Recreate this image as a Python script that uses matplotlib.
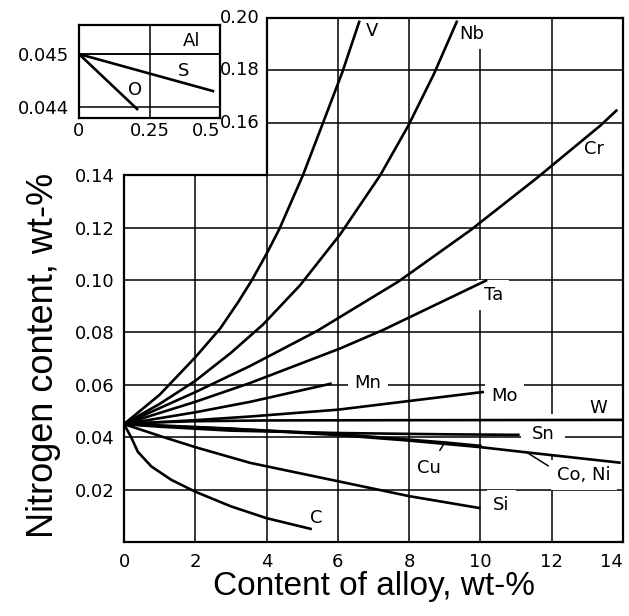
import matplotlib
matplotlib.use('Agg')
import matplotlib.pyplot as plt

plt.rcParams['font.family'] = ['DejaVu Sans']

# ---------------- data ----------------
x_ticks = [0, 2, 4, 6, 8, 10, 12, 14]
y_ticks_low = [0.02, 0.04, 0.06, 0.08, 0.10, 0.12, 0.14]
y_ticks_high = [0.16, 0.18, 0.20]

V_x = [0, 1, 2, 2.7, 3.2, 3.59, 4.0, 4.36, 5.02, 5.57, 6.13, 6.61]
V_y = [0.045, 0.0562, 0.0705, 0.0815, 0.0915, 0.100, 0.110, 0.1195, 0.140, 0.1595, 0.1795, 0.199]

Nb_x = [0, 1, 2, 3, 3.9, 4.94, 6.07, 7.19, 7.98, 8.69, 9.35]
Nb_y = [0.045, 0.0527, 0.0615, 0.0722, 0.083, 0.098, 0.1175, 0.140, 0.159, 0.1785, 0.199]

Cr_x = [0, 2, 3.54, 5.41, 7.71, 9.72, 11.59, 13.37, 13.84]
Cr_y = [0.045, 0.0572, 0.0672, 0.0805, 0.0995, 0.119, 0.139, 0.159, 0.165]

Ta_x = [0, 2, 3.54, 6.07, 7.28, 10.19]
Ta_y = [0.045, 0.0535, 0.0607, 0.0739, 0.081, 0.100]

Mn_x = [0, 2, 3.54, 5.83]
Mn_y = [0.045, 0.0495, 0.0535, 0.0605]

Mo_x = [0, 2, 3.54, 6, 10.1]
Mo_y = [0.045, 0.0465, 0.0479, 0.0505, 0.0573]

W_x = [0, 1, 2, 4, 8, 14]
W_y = [0.045, 0.0457, 0.0461, 0.0464, 0.0465, 0.0466]

Sn_x = [0, 1, 3, 6, 9, 11.1]
Sn_y = [0.045, 0.0440, 0.0425, 0.0416, 0.0411, 0.0409]

Cu_x = [0, 1, 3, 6, 9, 10]
Cu_y = [0.045, 0.0443, 0.0432, 0.0412, 0.0380, 0.0367]

CoNi_x = [0, 1, 3, 6, 8, 10, 11.3, 13.9]
CoNi_y = [0.045, 0.0445, 0.0433, 0.0408, 0.0387, 0.0362, 0.0342, 0.0303]

Si_x = [0, 1, 2, 3.54, 6, 8, 10]
Si_y = [0.045, 0.0405, 0.0362, 0.0302, 0.0232, 0.0175, 0.0129]

C_x = [0, 0.2, 0.39, 0.77, 1.33, 2, 3, 4, 5.27]
C_y = [0.045, 0.040, 0.0344, 0.0288, 0.0237, 0.0192, 0.0136, 0.0091, 0.0049]

# inset (0 ... 0.5 wt-%)
inset_x_ticks = [0, 0.25, 0.5]
inset_y_ticks = [0.044, 0.045]
Al_x = [0, 0.5]
Al_y = [0.045, 0.045]
S_x = [0, 0.475]
S_y = [0.045, 0.0443]
O_x = [0, 0.206]
O_y = [0.045, 0.04396]

curves = [
    (V_x, V_y, 'V', (6.96, 0.195)),
    (Nb_x, Nb_y, 'Nb', (9.77, 0.194)),
    (Cr_x, Cr_y, 'Cr', (13.18, 0.150)),
    (Ta_x, Ta_y, 'Ta', (10.36, 0.0943)),
    (Mn_x, Mn_y, 'Mn', (6.84, 0.0605)),
    (Mo_x, Mo_y, 'Mo', (10.68, 0.0558)),
    (W_x, W_y, 'W', (13.3, 0.0512)),
    (Si_x, Si_y, 'Si', (10.58, 0.0141)),
    (C_x, C_y, 'C', (5.4, 0.0093)),
]

LW_FRAME = 1.6
LW_GRID = 1.1
LW_CURVE = 1.9
FS = 13

fig = plt.figure(figsize=(6.29, 6.16), dpi=100)
ax = fig.add_axes([124 / 629, 74 / 616, 499 / 629, 524 / 616])
ax.set_xlim(0, 14)
ax.set_ylim(0, 0.2)
ax.patch.set_visible(False)

for s in ax.spines.values():
    s.set_linewidth(LW_FRAME)
ax.spines['left'].set_bounds(0, 0.14)
ax.spines['top'].set_bounds(4, 14)

ax.set_xticks(x_ticks)
xlabels = ax.set_xticklabels([str(v) for v in x_ticks])
xlabels[-1].set_ha('right')
ax.set_yticks(y_ticks_low)
ax.set_yticklabels([f"{v:.2f}" for v in y_ticks_low])
ax.tick_params(length=0, labelsize=FS)
ax.tick_params(axis='x', pad=8)
ax.tick_params(axis='y', pad=7)

for v in y_ticks_high:
    ax.annotate(f"{v:.2f}", xy=(4, v), xytext=(-5, 0), textcoords='offset points',
                ha='right', va='center', fontsize=FS, annotation_clip=False)

# grid
ax.hlines(y_ticks_low, 0, 14, color='black', lw=LW_GRID, zorder=1)
ax.hlines(y_ticks_high[:-1], 4, 14, color='black', lw=LW_GRID, zorder=1)
ax.vlines(x_ticks[1:2], 0, 0.14, color='black', lw=LW_GRID, zorder=1)
ax.vlines(x_ticks[2:-1], 0, 0.2, color='black', lw=LW_GRID, zorder=1)
ax.hlines([0.14], 0, 4, color='black', lw=LW_FRAME, zorder=2.6)
ax.vlines([4], 0.14, 0.2, color='black', lw=LW_FRAME, zorder=2.6)

box = dict(boxstyle='square,pad=0.35', fc='white', ec='none')
for xs, ys, name, pos in curves:
    ax.plot(xs, ys, color='black', lw=LW_CURVE, zorder=3, solid_capstyle='butt')
    ax.text(pos[0], pos[1], name, fontsize=FS, ha='center', va='center', zorder=2, bbox=box)

ax.plot(Sn_x, Sn_y, color='black', lw=LW_CURVE, zorder=3, solid_capstyle='butt')
ax.text(11.75, 0.0413, 'Sn', fontsize=FS, ha='center', va='center', zorder=2,
        bbox=dict(boxstyle='square,pad=0.6', fc='white', ec='none'))

ax.plot(Cu_x, Cu_y, color='black', lw=LW_CURVE, zorder=3)
ax.plot(CoNi_x, CoNi_y, color='black', lw=LW_CURVE, zorder=3)
ax.annotate('Cu', xy=(Cu_x[4], Cu_y[4]), xytext=(8.55, 0.0282), fontsize=FS,
            ha='center', va='center', zorder=2, bbox=box,
            arrowprops=dict(arrowstyle='-', lw=1.1, color='black', shrinkA=2, shrinkB=0))
ax.annotate('Co, Ni', xy=(CoNi_x[6], CoNi_y[6]), xytext=(12.9, 0.0256), fontsize=FS,
            ha='center', va='center', zorder=2, bbox=box,
            arrowprops=dict(arrowstyle='-', lw=1.1, color='black', shrinkA=2, shrinkB=0,
                            relpos=(0.0, 0.7)))

# ---------------- inset ----------------
ins = fig.add_axes([79 / 629, (616 - 118) / 616, 141 / 629, 93 / 616])
ins.set_xlim(0, 0.5)
ins.set_ylim(0.04379, 0.04555)
for s in ins.spines.values():
    s.set_linewidth(LW_FRAME)
ins.set_xticks(inset_x_ticks)
xl = ins.set_xticklabels(['0', '0.25', '0.5'])
xl[-1].set_ha('right')
ins.set_yticks(inset_y_ticks)
ins.set_yticklabels(['0.044', '0.045'])
ins.tick_params(length=0, labelsize=FS)
ins.tick_params(axis='x', pad=3)
ins.tick_params(axis='y', pad=7)
ins.vlines(inset_x_ticks[1:2], 0.04379, 0.04555, color='black', lw=LW_GRID, zorder=1)
ins.hlines(inset_y_ticks, 0, 0.5, color='black', lw=LW_GRID, zorder=1)
ins.plot(Al_x, Al_y, color='black', lw=LW_GRID, zorder=3)
ins.plot(S_x, S_y, color='black', lw=LW_CURVE, zorder=3)
ins.plot(O_x, O_y, color='black', lw=LW_CURVE, zorder=3)
ins.text(0.40, 0.04524, 'Al', fontsize=FS, ha='center', va='center')
ins.text(0.37, 0.04467, 'S', fontsize=FS, ha='center', va='center')
ins.text(0.199, 0.04432, 'O', fontsize=FS, ha='center', va='center')

# ---------------- axis titles ----------------
fig.text(374 / 629, 30 / 616, 'Content of alloy, wt-%', fontsize=24,
         family=['Liberation Sans', 'DejaVu Sans'], ha='center', va='center')
fig.text(44 / 629, (616 - 355) / 616, 'Nitrogen content, wt-%', fontsize=26,
         family=['Liberation Sans', 'DejaVu Sans'], rotation=90, ha='center', va='center')

fig.savefig('out.png', dpi=100)
